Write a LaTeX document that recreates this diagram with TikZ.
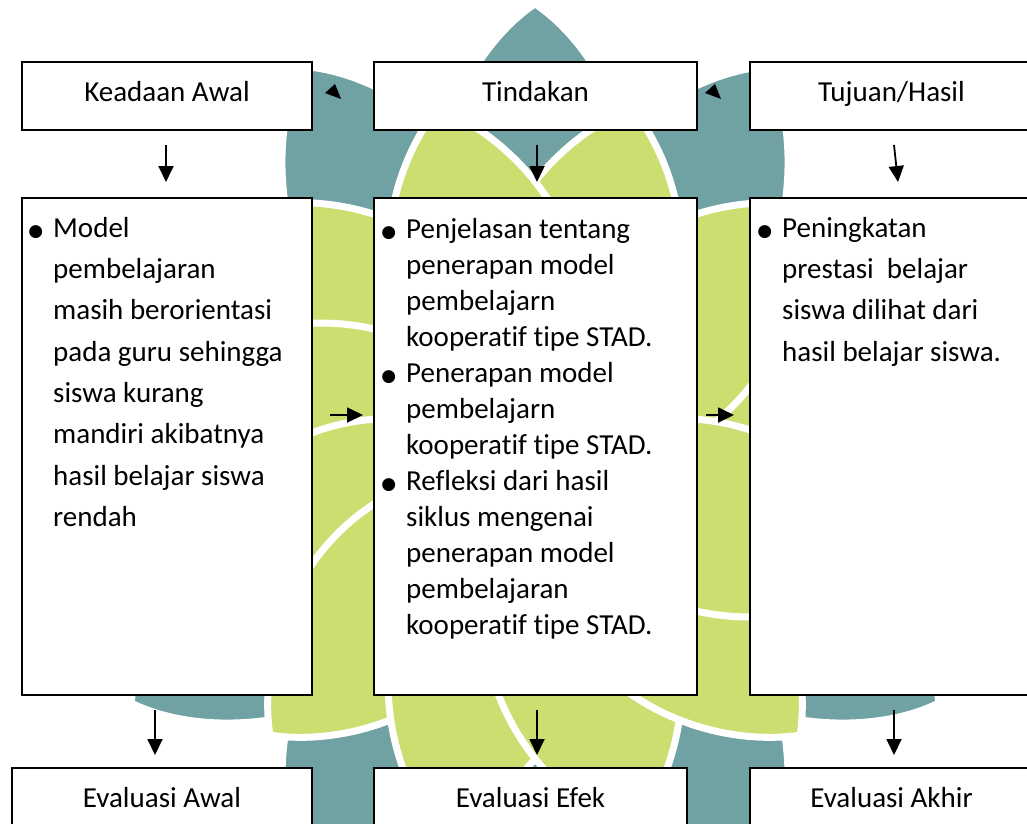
\documentclass[tikz,border=0pt]{standalone}
\usepackage{fontspec}
\setmainfont{Carlito}[Ligatures={NoCommon}]
\newfontfamily\dejavu{DejaVu Sans}
\usetikzlibrary{arrows.meta,calc}
\definecolor{wmteal}{RGB}{112,162,164}
\definecolor{wmgreen}{RGB}{203,222,112}
\newcommand\bul{\llap{\raisebox{0.5pt}{\dejavu\fontsize{17}{17}\selectfont ●}\hspace{10pt}}}
\begin{document}
\begin{tikzpicture}[x=1pt,y=-1pt,
  box/.style={draw=black,line width=2pt,fill=white,inner sep=0pt},
  lab/.style={font=\fontsize{29}{35}\selectfont,text height=16pt,text depth=6pt},
  bodyA/.style={anchor=north west,align=left,inner sep=0pt,font=\fontsize{29}{41.3}\selectfont},
  bodyB/.style={anchor=north west,align=left,inner sep=0pt,font=\fontsize{29}{36}\selectfont},
  arr/.style={line width=1.8pt,-{Triangle[length=16pt,width=15pt]}},
  tleaf/.style={fill=wmteal,draw=white,line width=5pt},
  gleaf/.style={fill=wmgreen,draw=white,line width=7pt}]
\useasboundingbox (0,0) rectangle (1027,823);
\clip (0,0) rectangle (1027,823);
% watermark
\foreach \a in {0,30,...,330}{
  \filldraw[tleaf,shift={(535,470)},rotate=\a] (0,0) .. controls (150,170) and (390,110) .. (465,0) .. controls (390,-110) and (150,-170) .. (0,0);
}
\foreach \a in {15,45,...,345}{
  \filldraw[gleaf,shift={(535,470)},rotate=\a] (0,0) .. controls (120,150) and (300,100) .. (375,0) .. controls (300,-100) and (120,-150) .. (0,0);
}
% top row
\node[box,lab,minimum width=290pt,minimum height=68pt,anchor=north west] (TA) at (21,61) {Keadaan Awal};
\node[box,lab,minimum width=323pt,minimum height=68pt,anchor=north west] (TB) at (373,61) {Tindakan};
\node[box,lab,minimum width=283pt,minimum height=68pt,anchor=north west] (TC) at (749,61) {Tujuan/Hasil};
% middle row
\node[box,minimum width=290pt,minimum height=497pt,anchor=north west] (MA) at (21,197) {};
\node[box,minimum width=323pt,minimum height=497pt,anchor=north west] (MB) at (373,197) {};
\node[box,minimum width=283pt,minimum height=497pt,anchor=north west] (MC) at (749,197) {};
% bottom row
\node[box,lab,minimum width=300pt,minimum height=68pt,anchor=north west] (BA) at (11,767) {Evaluasi Awal};
\node[box,lab,minimum width=313pt,minimum height=68pt,anchor=north west] (BB) at (373,767) {Evaluasi Efek};
\node[box,lab,minimum width=283pt,minimum height=68pt,anchor=north west] (BC) at (749,767) {Evaluasi Akhir};
% body texts
\node[bodyA] (tA) at (53,212) {\rule{0pt}{25pt}\bul Model\\pembelajaran\\masih berorientasi\\pada guru sehingga\\siswa kurang\\mandiri akibatnya\\hasil belajar siswa\\rendah};
\node[bodyB] (tB) at (406,213) {\rule{0pt}{25pt}\bul Penjelasan tentang\\penerapan model\\pembelajarn\\kooperatif tipe STAD.\\\bul Penerapan model\\pembelajarn\\kooperatif tipe STAD.\\\bul Refleksi dari hasil\\siklus mengenai\\penerapan model\\pembelajaran\\kooperatif tipe STAD.};
\node[bodyA] (tC) at (782,212) {\rule{0pt}{25pt}\bul Peningkatan\\prestasi\ \ belajar\\siswa dilihat dari\\hasil belajar siswa.};
% vertical arrows
\draw[arr] ($(TA.south)+(-1,14)$) -- ($(MA.north)+(-1,-15)$);
\draw[arr] ($(TB.south)+(1.5,14)$) -- ($(MB.north)+(1.5,-15)$);
\draw[arr] ($(TC.south)+(2.5,14)$) -- ($(MC.north)+(6.5,-15)$);
\draw[arr] ($(MA.south)+(-12,14)$) -- ($(BA.north)+(-7,-12)$);
\draw[arr] ($(MB.south)+(1.5,14)$) -- ($(BB.north)+(6.5,-12)$);
\draw[arr] ($(MC.south)+(2.5,14)$) -- ($(BC.north)+(2.5,-12)$);
% horizontal arrows
\draw[arr] ($(MA.east)+(17,-31.5)$) -- ($(MB.west)+(-10,-31.5)$);
\draw[arr] ($(MB.east)+(8,-31.5)$) -- ($(MC.west)+(-15,-31.5)$);
% lone arrowheads between top boxes
\fill ($(TA.east)+(12,-3)$) -- ($(TA.east)+(22,-12)$) -- ($(TA.east)+(28,3)$) -- cycle;
\fill ($(TB.east)+(7,-3)$) -- ($(TB.east)+(17,-12)$) -- ($(TB.east)+(23,3)$) -- cycle;
\end{tikzpicture}
\end{document}
